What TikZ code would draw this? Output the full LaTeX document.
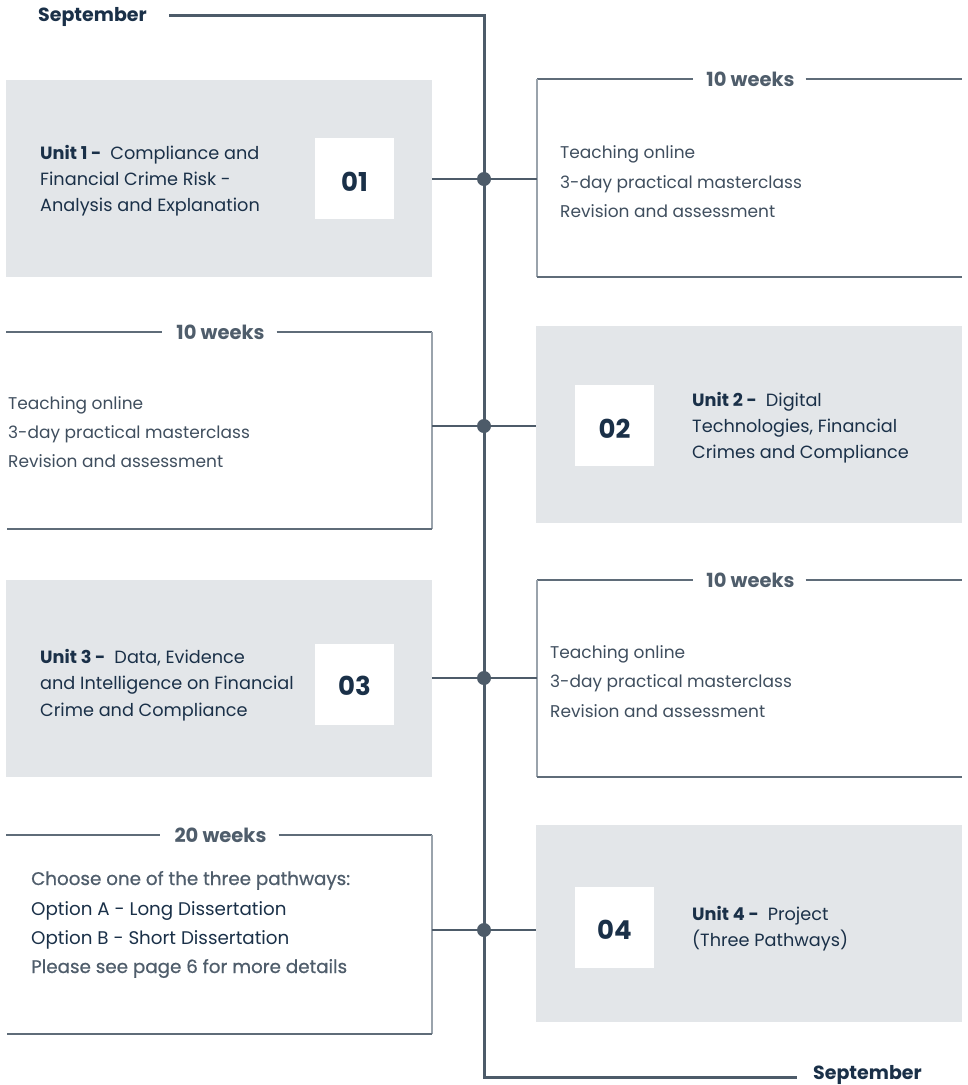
\documentclass[tikz,border=0pt]{standalone}
\usepackage{fontspec}
\setmainfont{Poppins}
\newfontfamily\medfont{Poppins}[FakeBold=0.8]
\definecolor{spinec}{HTML}{4D5B69}
\definecolor{boxfill}{HTML}{E3E6E9}
\definecolor{darktxt}{HTML}{1A3048}
\definecolor{lighttxt}{HTML}{3F4E5E}
\definecolor{medtxt}{HTML}{4F5D6B}
\definecolor{framec}{HTML}{5F6C79}
\definecolor{framev}{HTML}{9AA3AC}
\tikzset{
  unitbox/.style={fill=boxfill, draw=none, minimum width=426pt, minimum height=197pt, inner sep=0pt},
  numbox/.style={fill=white, draw=none, minimum width=79pt, minimum height=81pt, inner sep=0pt},
  numtxt/.style={inner sep=0pt, font=\fontsize{26}{30}\selectfont\bfseries, text=darktxt},
  dot/.style={circle, fill=spinec, minimum size=14pt, inner sep=0pt},
  spine/.style={draw=spinec, line width=3pt},
  conn/.style={draw=spinec, line width=1.3pt},
  frameh/.style={draw=framec, line width=1.3pt},
  framevv/.style={draw=framev, line width=1.5pt},
  weeks/.style={fill=white, inner sep=0pt, font=\fontsize{19.5}{22}\selectfont\bfseries, text=medtxt},
  line/.style={anchor=base west, inner sep=0pt, font=\fontsize{17}{20}\selectfont, text=lighttxt},
  pline/.style={anchor=base west, inner sep=0pt, font=\fontsize{18.3}{22}\selectfont, text=darktxt},
  mline/.style={anchor=base west, inner sep=0pt, font=\fontsize{18.3}{22}\medfont, text=medtxt},
  uline/.style={anchor=base west, inner sep=0pt, font=\fontsize{17.7}{21}\selectfont, text=darktxt},
  month/.style={anchor=base west, inner sep=0pt, font=\fontsize{19}{22}\selectfont\bfseries, text=darktxt},
}
\newcommand{\unitlbl}[1]{\textbf{Unit #1 -}\hspace{9pt}}
\begin{document}
\begin{tikzpicture}[x=1pt,y=-1pt]
\useasboundingbox (0,0) rectangle (968,1085);
% spine
\node[month] (septop) at (38,21) {September};
\node[month] (sepbot) at (813,1079.5) {September};
\coordinate (s0) at (169,15);
\coordinate (s1) at (484,15);
\coordinate (s2) at (484,1077);
\coordinate (s3) at (797,1077);
\draw[spine] (s0) -- (s1) -- (s2) -- (s3);

% ---------- Unit 1 ----------
\node[unitbox] (u1) at (219,178.5) {};
\node[numbox] (n1) at (354.5,178.5) {};
\node[numtxt] at ([yshift=-3pt]n1.center) {01};
\node[uline] (u1a) at (40,159) {\unitlbl{1}Compliance and};
\node[uline] (u1b) at (40,185) {Financial Crime Risk -};
\node[uline] (u1c) at (40,211) {Analysis and Explanation};
\node[dot] (d1) at (484,179) {};
\coordinate (r1tl) at (537,79);
\coordinate (r1bl) at (537,277);
\coordinate (r1br) at (962,277);
\coordinate (r1tr) at (962,79);
\coordinate (r1m) at (537,179);
\node[weeks] (w1) at (750.5,79) {10 weeks};
\draw[frameh] (r1tl) -- ([xshift=-13pt]w1.west);
\draw[frameh] ([xshift=11pt]w1.east) -- (r1tr);
\draw[framevv] (r1tl) -- (r1bl);
\draw[frameh] (r1bl) -- (r1br);
\draw[conn] (u1.east |- d1) -- (d1) -- (r1m);
\node[line] at (560,158) {Teaching online};
\node[line] at (560,188) {3-day practical masterclass};
\node[line] at (560,217) {Revision and assessment};

% ---------- Unit 2 ----------
\node[unitbox] (u2) at (749,424.5) {};
\node[numbox] (n2) at (614.5,425.5) {};
\node[numtxt] at ([yshift=-3pt]n2.center) {02};
\node[uline] at (692,406) {\unitlbl{2}Digital};
\node[uline] at (692,432) {Technologies, Financial};
\node[uline] at (692,458) {Crimes and Compliance};
\node[dot] (d2) at (484,426) {};
\coordinate (l2tl) at (6,332);
\coordinate (l2tr) at (432,332);
\coordinate (l2br) at (432,529);
\coordinate (l2bl) at (7,529);
\coordinate (l2m) at (432,426);
\node[weeks] (w2) at (220.5,332) {10 weeks};
\draw[frameh] (l2tl) -- ([xshift=-14pt]w2.west);
\draw[frameh] ([xshift=12pt]w2.east) -- (l2tr);
\draw[framevv] (l2tr) -- (l2br);
\draw[frameh] (l2br) -- (l2bl);
\draw[conn] (l2m) -- (d2) -- (u2.west |- d2);
\node[line] at (8,409) {Teaching online};
\node[line] at (8,438) {3-day practical masterclass};
\node[line] at (8,467) {Revision and assessment};

% ---------- Unit 3 ----------
\node[unitbox] (u3) at (219,678.5) {};
\node[numbox] (n3) at (354.5,684) {};
\node[numtxt] at ([yshift=-2pt]n3.center) {03};
\node[uline] at (40,663) {\unitlbl{3}Data, Evidence};
\node[uline] at (40,689) {and Intelligence on Financial};
\node[uline] at (40,716) {Crime and Compliance};
\node[dot] (d3) at (484,678) {};
\coordinate (r3tl) at (537,580);
\coordinate (r3bl) at (537,777);
\coordinate (r3br) at (962,777);
\coordinate (r3tr) at (962,580);
\coordinate (r3m) at (537,678);
\node[weeks] (w3) at (750.5,580) {10 weeks};
\draw[frameh] (r3tl) -- ([xshift=-13pt]w3.west);
\draw[frameh] ([xshift=11pt]w3.east) -- (r3tr);
\draw[framevv] (r3tl) -- (r3bl);
\draw[frameh] (r3bl) -- (r3br);
\draw[conn] (u3.east |- d3) -- (d3) -- (r3m);
\node[line] at (550,658) {Teaching online};
\node[line] at (550,687) {3-day practical masterclass};
\node[line] at (550,717) {Revision and assessment};

% ---------- Unit 4 ----------
\node[unitbox] (u4) at (749,923.5) {};
\node[numbox] (n4) at (614.5,927.5) {};
\node[numtxt] at ([yshift=-2pt]n4.center) {04};
\node[uline] at (692,920) {\unitlbl{4}Project};
\node[uline] at (692,946) {(Three Pathways)};
\node[dot] (d4) at (484,930) {};
\coordinate (l4tl) at (6,835);
\coordinate (l4tr) at (432,835);
\coordinate (l4br) at (432,1034);
\coordinate (l4bl) at (7,1034);
\coordinate (l4m) at (432,930);
\node[weeks] (w4) at (220.5,835) {20 weeks};
\draw[frameh] (l4tl) -- ([xshift=-14pt]w4.west);
\draw[frameh] ([xshift=12pt]w4.east) -- (l4tr);
\draw[framevv] (l4tr) -- (l4br);
\draw[frameh] (l4br) -- (l4bl);
\draw[conn] (l4m) -- (d4) -- (u4.west |- d4);
\node[mline] at (31,885) {Choose one of the three pathways:};
\node[pline] at (31,915) {Option A - Long Dissertation};
\node[pline] at (31,944) {Option B - Short Dissertation};
\node[mline] at (31,973) {Please see page 6 for more details};
\end{tikzpicture}
\end{document}
